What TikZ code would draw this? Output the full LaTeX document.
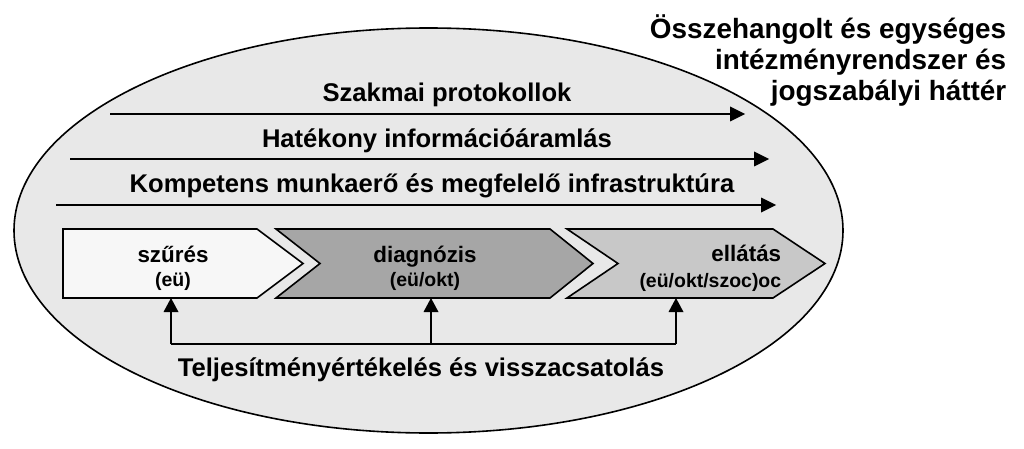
\documentclass[tikz,border=0pt]{standalone}
\usepackage{fontspec}
\setmainfont{Liberation Sans}

\tikzset{every picture/.style={line width=1.2pt}}
\tikzset{
  bigtxt/.style={anchor=base, inner sep=0.75pt, font=\fontsize{19.2}{23}\selectfont\bfseries},
  boxtxt/.style={anchor=base, inner sep=0.75pt, font=\fontsize{16.8}{20}\selectfont\bfseries},
  subtxt/.style={anchor=base, inner sep=0.75pt, font=\fontsize{14.6}{18}\selectfont\bfseries},
  chevron/.style={draw=black, line width=1.2pt, line join=miter},
}

\begin{document}
\begin{tikzpicture}[x=0.75pt,y=0.75pt,yscale=-1,xscale=1]
\path [use as bounding box] (0,0) rectangle (1024,449);

%Shape: Ellipse [id:frame]
\draw  [fill={rgb, 255:red, 232; green, 232; blue, 232 }  ,fill opacity=1 ] (428.5,230.5) ellipse (414.5 and 202.5) ;

%Straight Lines [id:protocols]
\coordinate (protA) at (110,114) ;
\coordinate (protB) at (745,114) ;
\draw [shorten >=4pt]  (protA) -- (protB) ;
\draw [shift={(protB)}, rotate = 180] [fill={rgb, 255:red, 0; green, 0; blue, 0 }  ][line width=0.08]  [draw opacity=0] (15,-7.5) -- (0,0) -- (15,7.5) -- cycle    ;
%Straight Lines [id:infoflow]
\coordinate (infoA) at (70,159) ;
\coordinate (infoB) at (769,159) ;
\draw [shorten >=4pt]  (infoA) -- (infoB) ;
\draw [shift={(infoB)}, rotate = 180] [fill={rgb, 255:red, 0; green, 0; blue, 0 }  ][line width=0.08]  [draw opacity=0] (15,-7.5) -- (0,0) -- (15,7.5) -- cycle    ;
%Straight Lines [id:workforce]
\coordinate (workA) at (56,205) ;
\coordinate (workB) at (776,205) ;
\draw [shorten >=4pt]  (workA) -- (workB) ;
\draw [shift={(workB)}, rotate = 180] [fill={rgb, 255:red, 0; green, 0; blue, 0 }  ][line width=0.08]  [draw opacity=0] (15,-7.5) -- (0,0) -- (15,7.5) -- cycle    ;

%Shape: Chevron [id:screening]
\draw [chevron, fill={rgb, 255:red, 247; green, 247; blue, 247 }] (63,229) -- (257,229) -- (303,263.5) -- (257,298) -- (63,298) -- cycle ;
%Shape: Chevron [id:diagnosis]
\draw [chevron, fill={rgb, 255:red, 166; green, 166; blue, 166 }] (276,229) -- (550,229) -- (593,263.5) -- (550,298) -- (276,298) -- (320,263.5) -- cycle ;
%Shape: Chevron [id:care]
\draw [chevron, fill={rgb, 255:red, 200; green, 200; blue, 200 }] (567,229) -- (773,229) -- (825,263.5) -- (773,298) -- (567,298) -- (618,263.5) -- cycle ;

%Feedback lines [id:feedback]
\coordinate (fb1) at (171,298) ;
\coordinate (fb2) at (431,298) ;
\coordinate (fb3) at (676,298) ;
\coordinate (fbL) at (171,344) ;
\coordinate (fbM) at (431,344) ;
\coordinate (fbR) at (676,344) ;
\draw    (fbL) -- (fbR) ;
\draw [shorten >=4pt]  (fbL) -- (fb1) ;
\draw [shorten >=4pt]  (fbM) -- (fb2) ;
\draw [shorten >=4pt]  (fbR) -- (fb3) ;
\draw [shift={(fb1)}, rotate = 90] [fill={rgb, 255:red, 0; green, 0; blue, 0 }  ][line width=0.08]  [draw opacity=0] (14,-7.5) -- (0,0) -- (14,7.5) -- cycle    ;
\draw [shift={(fb2)}, rotate = 90] [fill={rgb, 255:red, 0; green, 0; blue, 0 }  ][line width=0.08]  [draw opacity=0] (14,-7.5) -- (0,0) -- (14,7.5) -- cycle    ;
\draw [shift={(fb3)}, rotate = 90] [fill={rgb, 255:red, 0; green, 0; blue, 0 }  ][line width=0.08]  [draw opacity=0] (14,-7.5) -- (0,0) -- (14,7.5) -- cycle    ;

% Text Node
\draw (447,102) node [bigtxt] (prot) {Szakmai protokollok};
% Text Node
\draw (437,147) node [bigtxt] (info) {Hatékony információáramlás};
% Text Node
\draw (432,192) node [bigtxt] (work) {Kompetens munkaerő és megfelelő infrastruktúra};
% Text Node
\draw (1008,39) node [bigtxt, anchor=base east, font=\fontsize{20.9}{25}\selectfont\bfseries] (inst1) {Összehangolt és egységes};
% Text Node
\draw (1008,70) node [bigtxt, anchor=base east, font=\fontsize{20.9}{25}\selectfont\bfseries] (inst2) {intézményrendszer és};
% Text Node
\draw (1008,101) node [bigtxt, anchor=base east, font=\fontsize{20.9}{25}\selectfont\bfseries] (inst3) {jogszabályi háttér};
% Text Node
\draw (173,262) node [boxtxt] (scr) {szűrés};
% Text Node
\draw (173,286) node [subtxt] (scrsub) {(eü)};
% Text Node
\draw (425,262) node [boxtxt] (diag) {diagnózis};
% Text Node
\draw (425,286) node [subtxt] (diagsub) {(eü/okt)};
% Text Node
\draw (783,261) node [boxtxt, anchor=base east] (care) {ellátás};
% Text Node
\draw (783,287) node [subtxt, anchor=base east] (caresub) {(eü/okt/szoc)oc};
% Text Node
\draw (421,376) node [bigtxt] (eval) {Teljesítményértékelés és visszacsatolás};

\end{tikzpicture}
\end{document}
